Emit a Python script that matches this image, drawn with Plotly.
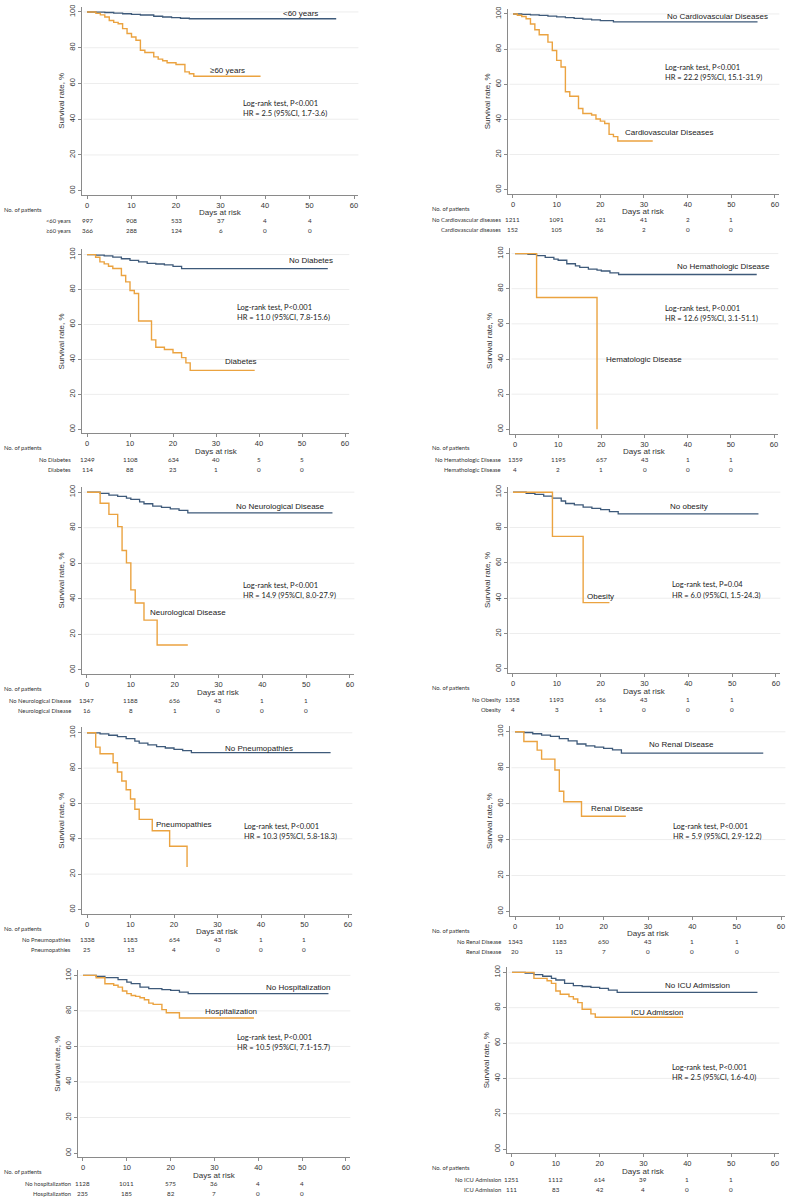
"""Kaplan-Meier survival panels with numbers-at-risk tables."""

import plotly.graph_objects as go

W, H = 790, 1199
BLUE = "#3e5a7a"
ORANGE = "#eba340"
ARIAL = "Liberation Sans, Arial, sans-serif"
CALIBRI = "Lato, Open Sans, sans-serif"
RISK_DAYS = [0, 10, 20, 30, 40, 50]
Y_TICKS = [0, 20, 40, 60, 80, 100]
Y_TICK_TEXT = ["00", "20", "40", "60", "80", "100"]
X_TICKS = [0, 10, 20, 30, 40, 50, 60]

# 1. age
age_names = ["<60 years", "≥60 years"]
age_rows = ["<60 years", "≥60 years"]
age_t_no = [0, 2, 4, 6, 8, 10, 12, 15, 17, 19, 21, 23, 56]
age_s_no = [100, 99.9, 99.7, 99.4, 99.0, 98.7, 98.3, 97.6, 97.2, 96.8, 96.5, 96.2, 96.2]
age_t_yes = [0, 2, 3, 4, 5, 6, 7, 8, 9, 10, 11, 12, 13, 15, 16, 17, 18, 20, 22, 23, 24, 39]
age_s_yes = [100, 99.2, 98.4, 97.2, 95.2, 94.2, 93.4, 90.7, 88.0, 86.0, 84.2, 78.6, 77.3,
             74.9, 73.6, 72.7, 71.6, 70.6, 66.5, 65.4, 64.0, 64.0]
age_risk_no = [997, 908, 533, 37, 4, 4]
age_risk_yes = [366, 288, 124, 6, 0, 0]
age_stats = ["Log-rank test, P<0.001", "HR = 2.5 (95%CI, 1.7-3.6)"]

# 2. cardiovascular
cvd_names = ["No Cardiovascular Diseases", "Cardiovascular Diseases"]
cvd_rows = ["No Cardiovascular diseases", "Cardiovascular diseases"]
cvd_t_no = [0, 2, 4, 6, 8, 10, 12, 14, 16, 18, 20, 23, 56]
cvd_s_no = [100, 99.8, 99.5, 99.2, 98.8, 98.3, 97.9, 97.5, 97.1, 96.7, 96.2, 95.5, 95.5]
cvd_t_yes = [0, 1, 2, 3, 4, 5, 6, 8, 9, 10, 11, 12, 13, 15, 16, 18, 19, 20, 21, 22, 23, 24, 32]
cvd_s_yes = [100, 99.3, 98.6, 97.3, 94.3, 91.0, 88.2, 84.0, 79.2, 73.6, 69.8, 55.7, 53.2,
             46.2, 43.4, 42.5, 40.2, 39.0, 37.7, 31.5, 30.2, 27.7, 27.7]
cvd_risk_no = [1211, 1091, 621, 41, 2, 1]
cvd_risk_yes = [152, 105, 36, 2, 0, 0]
cvd_stats = ["Log-rank test, P<0.001", "HR = 22.2 (95%CI, 15.1-31.9)"]

# 3. diabetes
dm_names = ["No Diabetes", "Diabetes"]
dm_rows = ["No Diabetes", "Diabetes"]
dm_t_no = [0, 2, 4, 6, 8, 10, 12, 14, 16, 18, 20, 22, 56]
dm_s_no = [100, 99.7, 99.3, 98.5, 97.6, 96.7, 95.8, 95.0, 94.6, 94.1, 93.3, 92.0, 92.0]
dm_t_yes = [0, 2, 3, 4, 5, 6, 8, 9, 10, 11, 12, 15, 16, 18, 20, 22, 23, 24, 39]
dm_s_yes = [100, 98.5, 95.8, 94.7, 93.3, 92.0, 88.0, 84.4, 79.4, 77.7, 62.0, 51.2, 47.0,
            45.7, 43.8, 41.0, 38.0, 33.7, 33.7]
dm_risk_no = [1249, 1108, 634, 40, 5, 5]
dm_risk_yes = [114, 88, 23, 1, 0, 0]
dm_stats = ["Log-rank test, P<0.001", "HR = 11.0 (95%CI, 7.8-15.6)"]

# 4. hematologic
hem_names = ["No Hemathologic Disease", "Hematologic Disease"]
hem_rows = ["No Hemathologic Disease", "Hemathologic Disease"]
hem_t_no = [0, 3, 5, 7, 9, 10, 12, 14, 15, 17, 19, 20, 22, 24, 56]
hem_s_no = [100, 99.5, 98.8, 97.8, 96.8, 96.2, 94.2, 93.0, 92.2, 91.2, 90.6, 90.1, 89.0, 88.1, 88.1]
hem_t_yes = [0, 5, 19]
hem_s_yes = [100, 75, 0]
hem_risk_no = [1359, 1195, 657, 43, 1, 1]
hem_risk_yes = [4, 2, 1, 0, 0, 0]
hem_stats = ["Log-rank test, P<0.001", "HR = 12.6 (95%CI, 3.1-51.1)"]

# 5. neurological
neu_names = ["No Neurological Disease", "Neurological Disease"]
neu_rows = ["No Neurological Disease", "Neurological Disease"]
neu_t_no = [0, 3, 5, 7, 9, 10, 12, 13, 15, 17, 19, 21, 23, 56]
neu_s_no = [100, 99.3, 98.3, 97.6, 96.6, 95.9, 94.6, 93.5, 92.1, 91.4, 90.6, 89.8, 88.4, 88.4]
neu_t_yes = [0, 3, 5, 7, 8, 9, 10, 11, 13, 16, 23]
neu_s_yes = [100, 93.75, 87.5, 80.6, 67.2, 60.2, 45.0, 37.6, 28.0, 14.0, 14.0]
neu_risk_no = [1347, 1188, 656, 43, 1, 1]
neu_risk_yes = [16, 8, 1, 0, 0, 0]
neu_stats = ["Log-rank test, P<0.001", "HR = 14.9 (95%CI, 8.0-27.9)"]

# 6. obesity
ob_names = ["No obesity", "Obesity"]
ob_rows = ["No Obesity", "Obesity"]
ob_t_no = [0, 3, 5, 7, 9, 11, 12, 14, 16, 18, 20, 22, 24, 56]
ob_s_no = [100, 99.4, 98.8, 97.8, 96.6, 95.0, 93.6, 92.8, 91.5, 90.8, 90.1, 89.0, 87.7, 87.7]
ob_t_yes = [0, 9, 16, 22]
ob_s_yes = [100, 75, 37.5, 37.5]
ob_risk_no = [1358, 1193, 656, 43, 1, 1]
ob_risk_yes = [4, 3, 1, 0, 0, 0]
ob_stats = ["Log-rank test, P=0.04", "HR = 6.0 (95%CI, 1.5-24.3)"]

# 7. pneumopathies
pn_names = ["No Pneumopathies", "Pneumopathies"]
pn_rows = ["No Pneumopathies", "Pneumopathies"]
pn_t_no = [0, 3, 5, 7, 9, 11, 12, 14, 16, 18, 20, 22, 24, 56]
pn_s_no = [100, 99.4, 98.6, 97.8, 96.7, 95.3, 94.2, 93.2, 92.2, 91.4, 90.6, 89.9, 88.8, 88.8]
pn_t_yes = [0, 2, 3, 6, 7, 8, 9, 10, 11, 12, 15, 19, 23]
pn_s_yes = [100, 91.9, 88.1, 83.0, 77.8, 72.7, 67.8, 62.5, 56.7, 51.0, 44.6, 35.8, 24.0]
pn_risk_no = [1338, 1183, 654, 43, 1, 1]
pn_risk_yes = [25, 13, 4, 0, 0, 0]
pn_stats = ["Log-rank test, P<0.001", "HR = 10.3 (95%CI, 5.8-18.3)"]

# 8. renal
ren_names = ["No Renal Disease", "Renal Disease"]
ren_rows = ["No Renal Disease", "Renal Disease"]
ren_t_no = [0, 2, 4, 6, 8, 10, 12, 14, 16, 18, 20, 22, 24, 56]
ren_s_no = [100, 99.6, 98.9, 98.1, 97.4, 96.2, 94.9, 93.2, 92.2, 91.5, 90.8, 89.9, 88.1, 88.1]
ren_t_yes = [0, 2, 5, 6, 9, 10, 11, 15, 25]
ren_s_yes = [100, 94.6, 89.8, 84.8, 78.7, 66.9, 61.1, 53.0, 53.0]
ren_risk_no = [1343, 1183, 650, 43, 1, 1]
ren_risk_yes = [20, 13, 7, 0, 0, 0]
ren_stats = ["Log-rank test, P<0.001", "HR = 5.9 (95%CI, 2.9-12.2)"]

# 9. hospitalization
hos_names = ["No Hospitalization", "Hospitalization"]
hos_rows = ["No hospitalization", "Hospitalization"]
hos_t_no = [0, 3, 5, 8, 10, 11, 13, 15, 18, 20, 22, 24, 56]
hos_s_no = [100, 99.4, 98.7, 97.6, 96.2, 95.3, 93.4, 92.5, 92.0, 91.6, 90.6, 89.7, 89.7]
hos_t_yes = [0, 3, 5, 7, 8, 9, 10, 11, 12, 13, 14, 15, 16, 18, 19, 22, 39]
hos_s_yes = [100, 98.7, 95.3, 94.4, 93.4, 91.2, 89.7, 88.7, 88.2, 87.4, 86.3, 84.4, 83.7,
             80.7, 79.0, 76.0, 76.0]
hos_risk_no = [1128, 1011, 575, 36, 4, 4]
hos_risk_yes = [235, 185, 82, 7, 0, 0]
hos_stats = ["Log-rank test, P<0.001", "HR = 10.5 (95%CI, 7.1-15.7)"]

# 10. ICU admission
icu_names = ["No ICU Admission", "ICU Admission"]
icu_rows = ["No ICU Admission", "ICU Admission"]
icu_t_no = [0, 3, 5, 7, 9, 10, 12, 14, 16, 18, 20, 22, 24, 56]
icu_s_no = [100, 99.6, 98.7, 97.8, 96.6, 95.7, 93.8, 92.5, 92.0, 91.5, 91.0, 90.0, 88.7, 88.7]
icu_t_yes = [0, 5, 8, 9, 10, 11, 13, 14, 15, 16, 18, 19, 39]
icu_s_yes = [100, 96.6, 95.3, 93.8, 89.5, 87.6, 86.3, 84.9, 82.9, 79.1, 76.5, 74.6, 74.6]
icu_risk_no = [1251, 1112, 614, 39, 1, 1]
icu_risk_yes = [111, 83, 42, 4, 0, 0]
icu_stats = ["Log-rank test, P<0.001", "HR = 2.5 (95%CI, 1.6-4.0)"]


def _panel(names, rows, t_no, s_no, t_yes, s_yes, risk_no, risk_yes, stats, box, spots):
    return dict(names=names, rows=rows, t_no=t_no, s_no=s_no, t_yes=t_yes, s_yes=s_yes,
                risk_no=risk_no, risk_yes=risk_yes, stats=stats, box=box, spots=spots)


# box: pixel of x=0, x=60, y=100, y=0 ; spots: label no, label yes, stats (x, y data)
panels = [
    _panel(age_names, age_rows, age_t_no, age_s_no, age_t_yes, age_s_yes, age_risk_no,
           age_risk_yes, age_stats, (87, 354, 10, 189),
           ((47.9, 99, "center"), (27.2, 67.5, "left"), (34.7, 48.9))),
    _panel(cvd_names, cvd_rows, cvd_t_no, cvd_s_no, cvd_t_yes, cvd_s_yes, cvd_risk_no,
           cvd_risk_yes, cvd_stats, (513, 775, 12, 188),
           ((34.8, 98.7, "left"), (25.2, 32.6, "left"), (34.4, 69.4))),
    _panel(dm_names, dm_rows, dm_t_no, dm_s_no, dm_t_yes, dm_s_yes, dm_risk_no,
           dm_risk_yes, dm_stats, (87, 345, 253, 428),
           ((46.4, 96.6, "left"), (31.7, 38.7, "left"), (34.4, 69.5))),
    _panel(hem_names, hem_rows, hem_t_no, hem_s_no, hem_t_yes, hem_s_yes, hem_risk_no,
           hem_risk_yes, hem_stats, (515, 774, 252, 428),
           ((37.0, 92.4, "left"), (20.6, 40.0, "left"), (34.4, 68.8))),
    _panel(neu_names, neu_rows, neu_t_no, neu_s_no, neu_t_yes, neu_s_yes, neu_risk_no,
           neu_risk_yes, neu_stats, (87, 350, 491, 669),
           ((33.6, 92.1, "left"), (14.0, 32.3, "left"), (35.2, 47.7))),
    _panel(ob_names, ob_rows, ob_t_no, ob_s_no, ob_t_yes, ob_s_yes, ob_risk_no,
           ob_risk_yes, ob_stats, (513, 776, 491, 668),
           ((35.4, 92.0, "left"), (16.4, 40.9, "left"), (35.9, 47.5))),
    _panel(pn_names, pn_rows, pn_t_no, pn_s_no, pn_t_yes, pn_s_yes, pn_risk_no,
           pn_risk_yes, pn_stats, (87, 348, 732, 909),
           ((31.2, 91.0, "left"), (15.4, 48.2, "left"), (35.6, 47.1))),
    _panel(ren_names, ren_rows, ren_t_no, ren_s_no, ren_t_yes, ren_s_yes, ren_risk_no,
           ren_risk_yes, ren_stats, (515, 781, 731, 911),
           ((29.7, 92.8, "left"), (16.7, 57.4, "left"), (35.1, 47.2))),
    _panel(hos_names, hos_rows, hos_t_no, hos_s_no, hos_t_yes, hos_s_yes, hos_risk_no,
           hos_risk_yes, hos_stats, (83, 346, 975, 1153),
           ((41.3, 92.9, "left"), (27.3, 79.7, "left"), (34.7, 64.9))),
    _panel(icu_names, icu_rows, icu_t_no, icu_s_no, icu_t_yes, icu_s_yes, icu_risk_no,
           icu_risk_yes, icu_stats, (512, 775, 972, 1149),
           ((34.4, 92.3, "left"), (26.6, 77.4, "left"), (36.1, 46.3))),
]

X_RANGE = [-1.1, 61]
Y_RANGE = [-2.4, 103]


def _esc(text):
    return text.replace("<", "&lt;")


fig = go.Figure()
annotations = []
shapes = []

for i, p in enumerate(panels, start=1):
    sfx = "" if i == 1 else str(i)
    xa, ya = "x" + sfx, "y" + sfx
    x0, x60, y100, y0 = p["box"]
    ppx = (x60 - x0) / 60
    ppy = (y0 - y100) / 100
    left_px = x0 + X_RANGE[0] * ppx
    right_px = x0 + X_RANGE[1] * ppx
    top_px = y0 - Y_RANGE[1] * ppy
    bottom_px = y0 - Y_RANGE[0] * ppy
    on_left = x0 < 395

    fig.add_trace(go.Scatter(x=p["t_no"], y=p["s_no"], mode="lines", line_shape="hv",
                             line=dict(color=BLUE, width=1.3), xaxis=xa, yaxis=ya,
                             showlegend=False, hoverinfo="skip"))
    fig.add_trace(go.Scatter(x=p["t_yes"], y=p["s_yes"], mode="lines", line_shape="hv",
                             line=dict(color=ORANGE, width=1.4), xaxis=xa, yaxis=ya,
                             showlegend=False, hoverinfo="skip"))

    axis_common = dict(showline=True, linecolor="#8a8a8a", linewidth=1, ticks="outside",
                       ticklen=3, tickcolor="#8a8a8a", showgrid=False, zeroline=False,
                       tickfont=dict(family=ARIAL, size=7.5, color="#333"), fixedrange=True)
    fig.layout["xaxis" + sfx] = dict(
        axis_common, domain=[left_px / W, right_px / W], range=X_RANGE, anchor=ya,
        tickvals=X_TICKS)
    fig.layout["yaxis" + sfx] = dict(
        axis_common, domain=[1 - bottom_px / H, 1 - top_px / H], range=Y_RANGE, anchor=xa,
        tickvals=Y_TICKS, ticktext=Y_TICK_TEXT, tickangle=-90,
        title=dict(text="Survival rate, %", font=dict(family=ARIAL, size=8, color="#333"),
                   standoff=2))

    for g in Y_TICKS[1:]:
        shapes.append(dict(type="line", xref=xa + " domain", yref=ya, x0=0.005, x1=1,
                           y0=g, y1=g, line=dict(color="#ededed", width=1), layer="below"))

    (nx, ny, nanc), (yx, yy, yanc), (sx, sy) = p["spots"]
    label_font = dict(family=ARIAL, size=8, color="#222")
    annotations.append(dict(x=nx, y=ny, xref=xa, yref=ya, text=_esc(p["names"][0]),
                            xanchor=nanc, yanchor="middle", showarrow=False, font=label_font))
    annotations.append(dict(x=yx, y=yy, xref=xa, yref=ya, text=_esc(p["names"][1]),
                            xanchor=yanc, yanchor="middle", showarrow=False, font=label_font))
    stat_font = dict(family=CALIBRI, size=7.5, color="#222")
    for k, line in enumerate(p["stats"]):
        annotations.append(dict(x=sx, y=sy - k * 5.7, xref=xa, yref=ya, text=_esc(line),
                                xanchor="left", yanchor="middle", showarrow=False,
                                font=stat_font))

    # risk table
    annotations.append(dict(x=30, y=1 - (bottom_px + 18) / H, xref=xa, yref="paper",
                            text="Days at risk", showarrow=False, xanchor="center",
                            yanchor="middle", font=dict(family=ARIAL, size=8, color="#333")))
    small = dict(family=CALIBRI, size=5.8, color="#333")
    head_x = 2 if on_left else 430
    annotations.append(dict(x=head_x / W, y=1 - (bottom_px + 14.5) / H, xref="paper",
                            yref="paper", text="No. of patients", showarrow=False,
                            xanchor="left", yanchor="middle", font=small))
    row_x = (73 if on_left else 503) / W
    for r, counts in enumerate([p["risk_no"], p["risk_yes"]]):
        ry = 1 - (bottom_px + 26 + r * 10) / H
        annotations.append(dict(x=row_x, y=ry, xref="paper", yref="paper",
                                text=_esc(p["rows"][r]), showarrow=False, xanchor="right",
                                yanchor="middle", font=small))
        for day, n in zip(RISK_DAYS, counts):
            annotations.append(dict(x=day, y=ry, xref=xa, yref="paper", text=str(n),
                                    showarrow=False, xanchor="center", yanchor="middle",
                                    font=dict(family=CALIBRI, size=6.3, color="#333")))

fig.update_layout(
    width=W, height=H, margin=dict(l=0, r=0, t=0, b=0),
    paper_bgcolor="white", plot_bgcolor="white",
    annotations=annotations, shapes=shapes, showlegend=False,
)

# the page's default body margin would push the figure 8px right and down
fig.write_html("out.html", config={"displayModeBar": False},
               post_script="document.body.style.margin = '0px';")
